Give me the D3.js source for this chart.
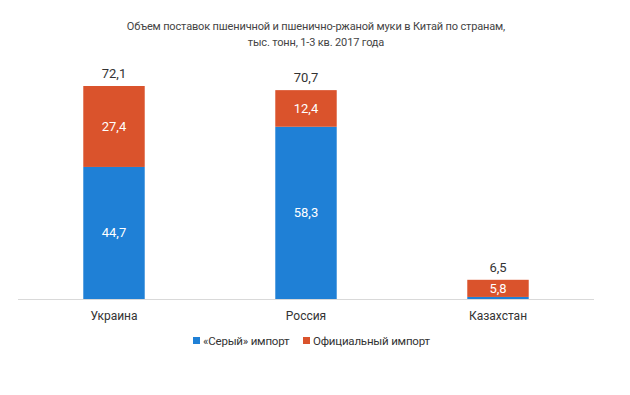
<!DOCTYPE html>
<html>
<head>
<meta charset="utf-8">
<script src="https://cdn.jsdelivr.net/npm/d3@7"></script>
<style>
  body { margin: 0; background: #fff; }
  text { font-family: Roboto, "Open Sans", sans-serif; }
</style>
</head>
<body>
<svg id="chart" width="630" height="395"></svg>
<script>
// data
var countries = ['Украина', 'Россия', 'Казахстан'];
var greyImport = [44.7, 58.3, 0.7];
var officialImport = [27.4, 12.4, 5.8];
var totals = [72.1, 70.7, 6.5];
var seriesNames = ['«Серый» импорт', 'Официальный импорт'];
var titleLines = ['Объем поставок пшеничной и пшенично-ржаной муки в Китай по странам,',
                  'тыс. тонн, 1-3 кв. 2017 года'];

var colors = ['#1f80d6', '#da532c'];

var svg = d3.select('#chart'),
    baseY = 299,
    x = d3.scaleBand().domain(countries).range([18, 594])
        .paddingInner(0.68).paddingOuter(0.34),
    y = d3.scaleLinear().domain([0, 72.1]).range([baseY, 86]);

// title
svg.append('g').selectAll('text')
    .data(titleLines)
    .join('text')
    .attr('x', 316)
    .attr('y', function (d, i) { return 30 + i * 16; })
    .attr('text-anchor', 'middle')
    .attr('font-size', 11)
    .attr('letter-spacing', -0.15)
    .attr('fill', '#444')
    .text(function (d) { return d; });

// stack the two series
var rows = countries.map(function (c, i) {
    return { country: c, grey: greyImport[i], official: officialImport[i] };
});
var stacked = d3.stack().keys(['grey', 'official'])(rows);

svg.append('g').selectAll('g')
    .data(stacked)
    .join('g')
    .attr('fill', function (d, i) { return colors[i]; })
    .selectAll('rect')
    .data(function (d) { return d; })
    .join('rect')
    .attr('x', function (d) { return x(d.data.country); })
    .attr('width', x.bandwidth())
    .attr('y', function (d) { return y(d[1]); })
    .attr('height', function (d) { return y(d[0]) - y(d[1]); });

// segment labels (skip tiny ones)
var fmt = function (v) { return String(v).replace('.', ','); };
svg.append('g').selectAll('g')
    .data(stacked)
    .join('g')
    .selectAll('text')
    .data(function (d) { return d.filter(function (s) { return s[1] - s[0] > 2; }); })
    .join('text')
    .attr('x', function (d) { return x(d.data.country) + x.bandwidth() / 2; })
    .attr('y', function (d) { return (y(d[0]) + y(d[1])) / 2 + 4.5; })
    .attr('text-anchor', 'middle')
    .attr('font-size', 13)
    .attr('fill', '#fff')
    .text(function (d) { return fmt(+(d[1] - d[0]).toFixed(1)); });

// totals above the bars
svg.append('g').selectAll('text')
    .data(countries)
    .join('text')
    .attr('x', function (d) { return x(d) + x.bandwidth() / 2; })
    .attr('y', function (d, i) { return y(totals[i]) - 8; })
    .attr('text-anchor', 'middle')
    .attr('font-size', 13)
    .attr('fill', '#333')
    .text(function (d, i) { return fmt(totals[i]); });

// baseline + category axis
var axis = svg.append('g')
    .attr('transform', 'translate(0,' + baseY + ')')
    .call(d3.axisBottom(x).tickSize(0).tickPadding(12));
axis.select('.domain').attr('stroke', '#d9d9d9').attr('d', 'M18,0.5H594');
axis.selectAll('text')
    .attr('font-size', 12)
    .attr('fill', '#333')
    .attr('font-family', 'Roboto, sans-serif');

// legend
var legendX = [193, 303];
var legend = svg.append('g').selectAll('g')
    .data(seriesNames)
    .join('g')
    .attr('transform', function (d, i) { return 'translate(' + legendX[i] + ',341)'; });
legend.append('rect')
    .attr('x', 0).attr('y', -4)
    .attr('width', 7).attr('height', 7)
    .attr('fill', function (d, i) { return colors[i]; });
legend.append('text')
    .attr('x', 10).attr('y', 4)
    .attr('font-size', 11.5)
    .attr('letter-spacing', -0.2)
    .attr('fill', '#333')
    .text(function (d) { return d; });
</script>
</body>
</html>
